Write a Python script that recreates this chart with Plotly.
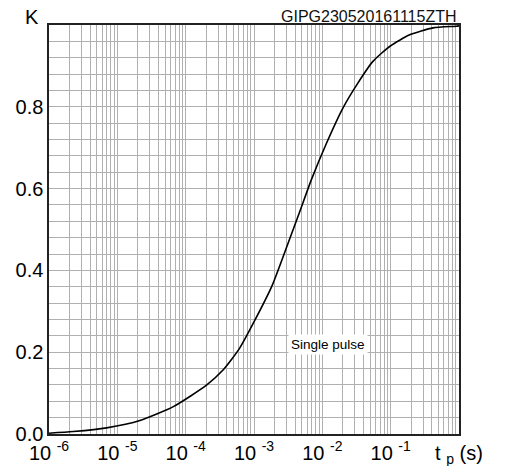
import plotly.graph_objects as go

# Pulse duration (s) and transient thermal impedance factor K (single pulse)
tp = [1e-6, 2.26e-6, 6.97e-6, 2.14e-5, 6.6e-5, 2.04e-4, 3.55e-4, 4.68e-4, 6.17e-4,
      9.77e-4, 1.82e-3, 3.16e-3, 4.68e-3, 6.92e-3, 1.15e-2, 2.0e-2, 3.31e-2,
      5.5e-2, 9.77e-2, 0.19, 0.417, 0.91, 1.0]
K = [0.002, 0.006, 0.015, 0.033, 0.067, 0.12, 0.157, 0.182, 0.21,
     0.271, 0.361, 0.467, 0.544, 0.622, 0.711, 0.797, 0.858,
     0.911, 0.948, 0.976, 0.993, 0.997, 0.998]

decade_exps = [-6, -5, -4, -3, -2, -1]
x_axis_title = "t <sub>p</sub> (s)"
y_major_vals = [0.0, 0.2, 0.4, 0.6, 0.8]
y_major_labels = ["0.0", "0.2", "0.4", "0.6", "0.8"]
chart_code = "GIPG230520161115ZTH"
curve_label = "Single pulse"
y_label = "K"

FONT = "Liberation Sans, Arial, sans-serif"

# x: labels at decades plus axis title at 1 s; minor grid at 2..9 x decade
xtickvals = [10.0 ** e for e in decade_exps] + [1.0]
xticktext = [f"10 <sup>{e}</sup>" for e in decade_exps] + [x_axis_title]
xminor = [m * 10.0 ** e for e in decade_exps for m in range(2, 10)]

# y: labels every 0.2, minor grid every 0.04
yminor = [round(i * 0.04, 2) for i in range(26) if i % 5 != 0]

fig = go.Figure()
fig.add_trace(go.Scatter(x=tp, y=K, mode="lines",
                         line=dict(color="black", width=1.6, shape="spline", smoothing=0.6),
                         showlegend=False, hoverinfo="skip"))

grid = "#b0b0b0"
fig.update_layout(
    width=510, height=466,
    margin=dict(l=49, r=50.5, t=25, b=32),
    paper_bgcolor="white", plot_bgcolor="white",
    font=dict(family=FONT, color="black", size=20),
    xaxis=dict(type="log", range=[-6, 0], tickmode="array",
               tickvals=xtickvals, ticktext=xticktext,
               showgrid=True, gridcolor=grid, gridwidth=1,
               minor=dict(tickmode="array", tickvals=xminor, showgrid=True,
                          gridcolor=grid, gridwidth=1, ticks=""),
               ticks="", showline=True, linecolor="#222", linewidth=1.6,
               mirror=True, zeroline=False, automargin=False,
               tickfont=dict(size=20, family=FONT)),
    yaxis=dict(range=[0, 1], tickmode="array",
               tickvals=y_major_vals, ticktext=y_major_labels,
               showgrid=True, gridcolor=grid, gridwidth=1,
               minor=dict(tickmode="array", tickvals=yminor, showgrid=True,
                          gridcolor=grid, gridwidth=1, ticks=""),
               ticks="", showline=True, linecolor="#222", linewidth=1.6,
               mirror=True, zeroline=False, automargin=False,
               tickfont=dict(size=20, family=FONT)),
    annotations=[
        dict(text=y_label, xref="paper", yref="paper", x=-0.041, y=1.02,
             xanchor="center", yanchor="middle", showarrow=False,
             font=dict(size=20, family=FONT)),
        dict(text=chart_code, xref="paper", yref="paper", x=1.0, y=1.02,
             xanchor="right", yanchor="middle", showarrow=False,
             font=dict(size=16, family=FONT, color="#111")),
        dict(text=curve_label, xref="x", yref="y", x=-1.92, y=0.22,
             xanchor="center", yanchor="middle", showarrow=False,
             bgcolor="white", borderpad=2,
             font=dict(size=13.5, family=FONT)),
    ],
)

fig.write_html("out.html",
               config={"displayModeBar": False, "staticPlot": True},
               post_script="document.body.style.margin='0';document.body.style.padding='0';")
